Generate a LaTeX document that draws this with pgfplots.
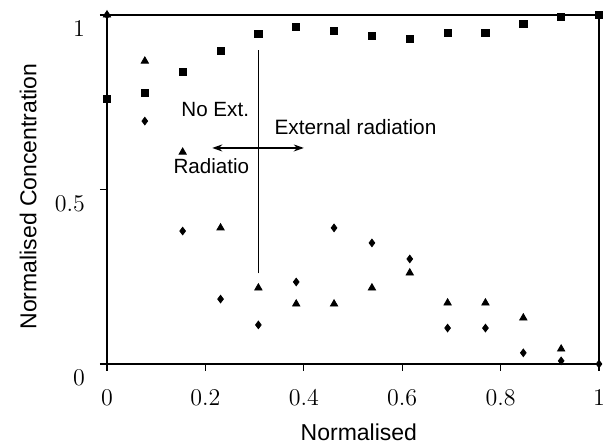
\documentclass[border=0pt]{standalone}
\usepackage{pgfplots}
\pgfplotsset{compat=1.18}
\usepackage{fontspec}
\setmainfont{Liberation Sans}
\usetikzlibrary{arrows.meta}
\begin{document}
\begin{tikzpicture}
\begin{axis}[
  scale only axis, width=246pt, height=174.5pt,
  xmin=0, xmax=1, ymin=0, ymax=1,
  xtick={0,0.2,0.4,0.6,0.8,1},
  ytick={0,0.5,1},
  tick align=outside, tick pos=left,
  major tick length=3.5pt,
  axis line style={line width=0.8pt},
  every tick/.style={black, line width=0.6pt},
  ticklabel style={font=\fontsize{12}{13}\selectfont},
  xticklabel style={yshift=-6pt},
  yticklabel style={xshift=-4pt, yshift=-7pt},
  clip=false,
  xlabel={Normalised},
  ylabel={Normalised Concentration},
  label style={font=\fontsize{11.5}{13}\selectfont},
  xlabel style={at={(axis description cs:0.512,-0.195)}, anchor=center},
  ylabel style={at={(axis description cs:-0.16,0.48)}, anchor=center},
]
% squares
\addplot[only marks, mark=square*, mark size=1.8pt, black] coordinates {
 (0,0.759) (0.0769,0.777) (0.1538,0.837) (0.2308,0.897) (0.3077,0.946)
 (0.3846,0.966) (0.4615,0.954) (0.5385,0.940) (0.6154,0.931) (0.6923,0.948)
 (0.7692,0.948) (0.8462,0.974) (0.9231,0.994) (1,1.0)};
% triangles
\addplot[only marks, mark=triangle*, mark size=2.1pt, black] coordinates {
 (0,1) (0.0769,0.868) (0.1538,0.607) (0.2308,0.390) (0.3077,0.218)
 (0.3846,0.172) (0.4615,0.172) (0.5385,0.218) (0.6154,0.261) (0.6923,0.175)
 (0.7692,0.175) (0.8462,0.132) (0.9231,0.043)};
% diamonds
\addplot[only marks, mark=diamond*, mark size=1.9pt, black] coordinates {
 (0,1) (0.0769,0.696) (0.1538,0.381) (0.2308,0.186) (0.3077,0.112)
 (0.3846,0.235) (0.4615,0.390) (0.5385,0.347) (0.6154,0.301) (0.6923,0.103)
 (0.7692,0.103) (0.8462,0.032) (0.9231,0.009) (1,0.0)};
\draw[line width=0.5pt] (axis cs:0.3077,0.26) -- (axis cs:0.3077,0.90);
\draw[line width=0.6pt, {Stealth[length=5pt,width=3.5pt]}-{Stealth[length=5pt,width=3.5pt]}]
  (axis cs:0.214,0.619) -- (axis cs:0.40,0.619);
\node[font=\fontsize{10.3}{12}\selectfont] at (axis cs:0.22,0.728) {No Ext.};
\node[font=\fontsize{10.4}{12}\selectfont] at (axis cs:0.505,0.68) {External radiation};
\node[font=\fontsize{10.3}{12}\selectfont] at (axis cs:0.212,0.568) {Radiatio};
\end{axis}
\pgfresetboundingbox
\path[use as bounding box] ([xshift=-53.5pt,yshift=-39.5pt]current axis.south west) rectangle ([xshift=3.5pt,yshift=7.5pt]current axis.north east);
\end{tikzpicture}
\end{document}
